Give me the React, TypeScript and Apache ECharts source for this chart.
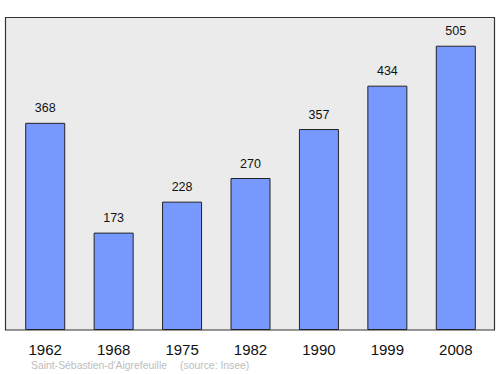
import React, { useEffect, useRef } from "react";
import * as echarts from "echarts";

const years = ["1962", "1968", "1975", "1982", "1990", "1999", "2008"];
const population = [368, 173, 228, 270, 357, 434, 505];
const placeName = "Saint-Sébastien-d'Aigrefeuille";
const sourceText = "(source: Insee)";

export default function App() {
  const ref = useRef<HTMLDivElement>(null);
  useEffect(() => {
    if (!ref.current) return;
    const chart = echarts.init(ref.current, null, { renderer: "svg" });
    chart.setOption({
      animation: false,
      textStyle: { fontFamily: "Liberation Sans, Arial, sans-serif" },
      graphic: [
        {
          type: "rect",
          z: -10,
          shape: { x: 5.5, y: 17.5, width: 489, height: 312.5 },
          style: { fill: "#ebebeb", stroke: "#333", lineWidth: 1.2 },
        },
        {
          type: "text",
          x: 31,
          y: 365,
          style: {
            text: placeName,
            fill: "#bdbdbd",
            font: "10.4px Liberation Sans, Arial, sans-serif",
            verticalAlign: "middle",
          },
        },
        {
          type: "text",
          x: 180,
          y: 365,
          style: {
            text: sourceText,
            fill: "#bdbdbd",
            font: "10.4px Liberation Sans, Arial, sans-serif",
            verticalAlign: "middle",
          },
        },
      ],
      grid: { left: 11, right: 10, top: 17, bottom: 44, containLabel: false },
      xAxis: {
        type: "category",
        data: years,
        axisLine: { show: false },
        axisTick: { show: false },
        axisLabel: {
          color: "#111",
          fontSize: 15,
          margin: 12,
          fontFamily: "Liberation Sans, Arial, sans-serif",
        },
      },
      yAxis: {
        type: "value",
        min: 0,
        max: 556,
        show: false,
        splitLine: { show: false },
      },
      series: [
        {
          type: "bar",
          data: population,
          barWidth: 40,
          itemStyle: { color: "#7799ff", borderColor: "#222", borderWidth: 1 },
          label: {
            show: true,
            position: "top",
            distance: 8,
            color: "#111",
            fontSize: 12.5,
            fontFamily: "Liberation Sans, Arial, sans-serif",
          },
        },
      ],
    });
    return () => chart.dispose();
  }, []);
  return <div ref={ref} style={{ width: 500, height: 374, position: "absolute", left: 0, top: 0 }} />;
}
